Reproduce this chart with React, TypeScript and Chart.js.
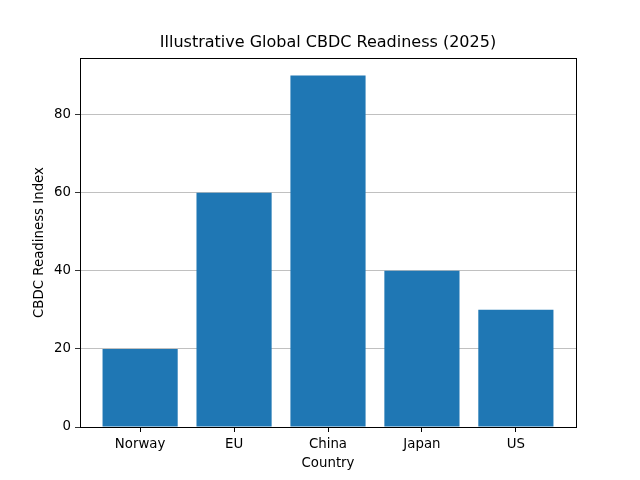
import React, { useEffect, useRef } from "react";
import { Chart, registerables } from "chart.js";

Chart.register(...registerables);

const countries = ["Norway", "EU", "China", "Japan", "US"];
const readiness = [20, 60, 90, 40, 30];
const yTicks = [0, 20, 40, 60, 80];
const chartTitle = "Illustrative Global CBDC Readiness (2025)";

const boxPlugin = {
  id: "box",
  afterDraw(chart: any) {
    const { ctx, chartArea } = chart;
    ctx.save();
    ctx.strokeStyle = "#000";
    ctx.lineWidth = 1;
    ctx.strokeRect(
      Math.round(chartArea.left) + 0.5,
      Math.round(chartArea.top) + 0.5,
      Math.round(chartArea.right - chartArea.left),
      Math.round(chartArea.bottom - chartArea.top)
    );
    ctx.font = "16px 'DejaVu Sans'";
    ctx.fillStyle = "#000";
    ctx.textAlign = "center";
    ctx.textBaseline = "middle";
    ctx.fillText(chartTitle, (chartArea.left + chartArea.right) / 2, 43);
    ctx.restore();
  },
};

export default function App() {
  const ref = useRef<HTMLCanvasElement>(null);
  useEffect(() => {
    if (!ref.current) return;
    Chart.defaults.font.family = "DejaVu Sans";
    Chart.defaults.color = "#000";
    const chart = new Chart(ref.current, {
      type: "bar",
      data: {
        datasets: [
          {
            data: readiness.map((v, i) => ({ x: i, y: v })),
            backgroundColor: "#1f77b4",
            borderWidth: 0,
            borderColor: "#1f77b4",
            inflateAmount: 0,
            categoryPercentage: 1,
            barPercentage: 0.8,
          },
        ],
      },
      options: {
        animation: false,
        responsive: false,
        devicePixelRatio: 1,
        layout: { padding: { left: 0, right: 64, top: 58, bottom: 0 } },
        plugins: {
          legend: { display: false },
          tooltip: { enabled: false },
          title: { display: false },
        },
        scales: {
          x: {
            type: "linear",
            min: -0.64,
            max: 4.64,
            offset: false,
            afterBuildTicks(scale: any) {
              scale.ticks = countries.map((_, i) => ({ value: i }));
            },
            afterFit(scale: any) {
              scale.height = 53;
            },
            ticks: {
              autoSkip: false,
              maxRotation: 0,
              font: { size: 13.33 },
              padding: 5,
              callback: (v: any) => countries[v as number] ?? "",
            },
            grid: {
              display: true,
              offset: false,
              drawOnChartArea: false,
              drawTicks: true,
              tickLength: 5,
              tickColor: "#000",
            },
            border: { display: false },
            title: {
              display: true,
              text: "Country",
              font: { size: 13.33 },
              padding: { top: 0, bottom: 8 },
            },
          },
          y: {
            type: "linear",
            min: 0,
            max: 94.5,
            afterBuildTicks(scale: any) {
              scale.ticks = yTicks.map((v) => ({ value: v }));
            },
            afterFit(scale: any) {
              scale.width = 80;
            },
            ticks: {
              font: { size: 13.33 },
              padding: 4,
            },
            grid: {
              display: true,
              offset: false,
              color: "#b0b0b0",
              lineWidth: 0.8,
              drawTicks: true,
              tickLength: 5,
              tickColor: "#000",
            },
            border: { display: false },
            title: {
              display: true,
              text: "CBDC Readiness Index",
              font: { size: 13.33 },
              padding: { top: 32, bottom: 0 },
            },
          },
        },
      },
      plugins: [boxPlugin],
    } as any);
    return () => chart.destroy();
  }, []);
  return (
    <div style={{ position: "fixed", left: 0, top: 0, width: 640, height: 480, background: "#fff" }}>
      <canvas ref={ref} width={640} height={480} />
    </div>
  );
}
